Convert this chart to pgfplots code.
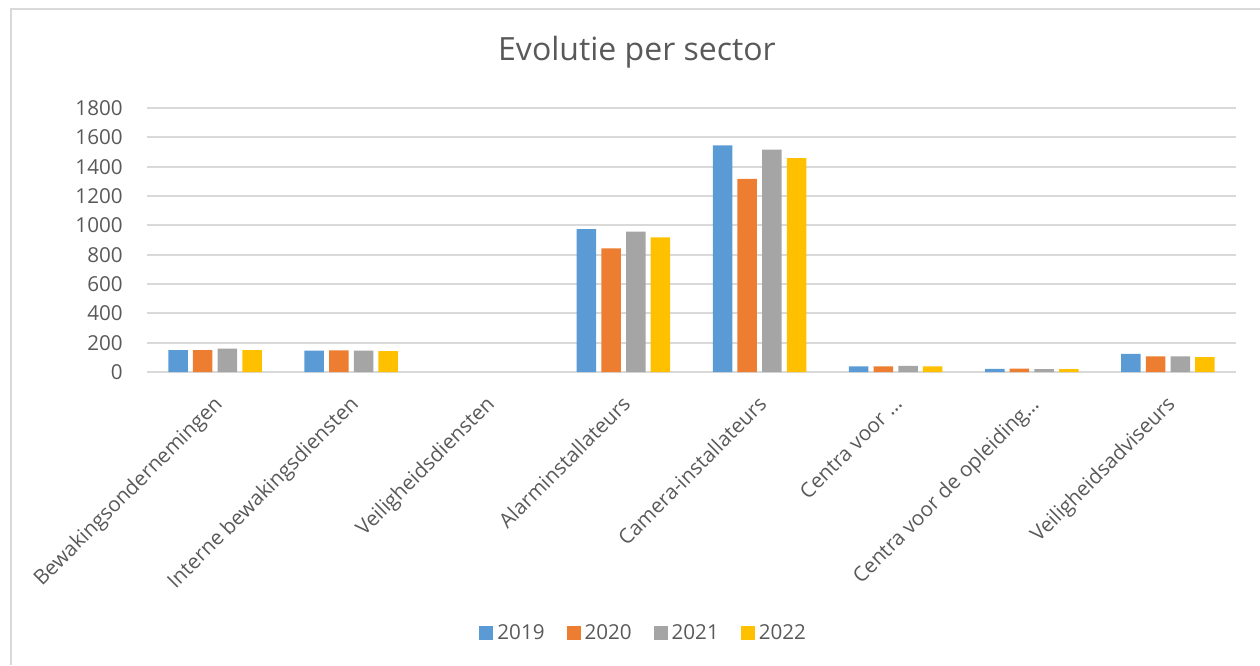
\documentclass[border=0pt]{standalone}
\usepackage{fontspec}
\setmainfont{Open Sans}
\usepackage{pgfplots}
\pgfplotsset{compat=1.18}

\definecolor{c19}{HTML}{5B9BD5}
\definecolor{c20}{HTML}{ED7D31}
\definecolor{c21}{HTML}{A5A5A5}
\definecolor{c22}{HTML}{FFC000}
\definecolor{txt}{HTML}{595959}
\definecolor{grd}{HTML}{D9D9D9}

% 1 px of the reference = 0.5pt
\begin{document}
\begin{tikzpicture}
\useasboundingbox (0pt,0pt) rectangle (630pt,332.5pt);
\draw[grd, line width=0.8pt] (5.5pt,0pt) -- (5.5pt,328pt) -- (630pt,328pt);
\node[txt, font=\fontsize{16}{19}\selectfont] at (318.5pt,306.5pt) {Evolutie per sector};
\begin{axis}[
  at={(73.5pt,146.5pt)}, anchor=south west,
  scale only axis, width=544.5pt, height=132pt,
  ybar, bar width=9.75pt, ybar=2.6pt,
  xmin=-0.5, xmax=7.5, ymin=0, ymax=1800,
  xtick={0,...,7},
  xticklabels={Bewakingsondernemingen, Interne bewakingsdiensten, Veiligheidsdiensten,
    Alarminstallateurs, Camera-installateurs, Centra voor \dots,
    Centra voor de opleiding\dots, Veiligheidsadviseurs},
  ytick={0,200,...,1800},
  axis line style={draw=none},
  major tick length=0pt,
  ymajorgrids, grid style={grd, line width=1pt},
  tick label style={txt},
  yticklabel style={font=\fontsize{10.3}{12}\selectfont},
  /pgf/number format/assume math mode=true,
  /pgf/number format/1000 sep={},
  yticklabel style={anchor=east, inner sep=0pt, xshift=-12pt},
  xticklabel shift=11pt,
  xticklabel style={font=\fontsize{10.3}{12}\selectfont, anchor=north east, inner sep=0pt,
    rotate=45, xshift=-1pt, yshift=1pt},
  legend columns=4,
  legend style={at={(0.457,-0.989)}, anchor=center, draw=none, fill=none,
    font=\fontsize{10.3}{12}\selectfont, text=txt,
    /tikz/every even column/.append style={column sep=9pt}},
  legend image code/.code={\fill[#1] (0pt,-3.5pt) rectangle (7pt,3.5pt);},
  every axis plot/.append style={draw=none},
]
\addplot[fill=c19] coordinates {(0,150) (1,145) (3,975) (4,1545) (5,39) (6,21) (7,124)};
\addplot[fill=c20] coordinates {(0,150) (1,147) (3,843) (4,1316) (5,39) (6,23) (7,106)};
\addplot[fill=c21] coordinates {(0,159) (1,145) (3,957) (4,1516) (5,41) (6,19) (7,106)};
\addplot[fill=c22] coordinates {(0,150) (1,143) (3,918) (4,1459) (5,39) (6,20) (7,101)};
\legend{2019,2020,2021,2022}
\end{axis}
\end{tikzpicture}
\end{document}
